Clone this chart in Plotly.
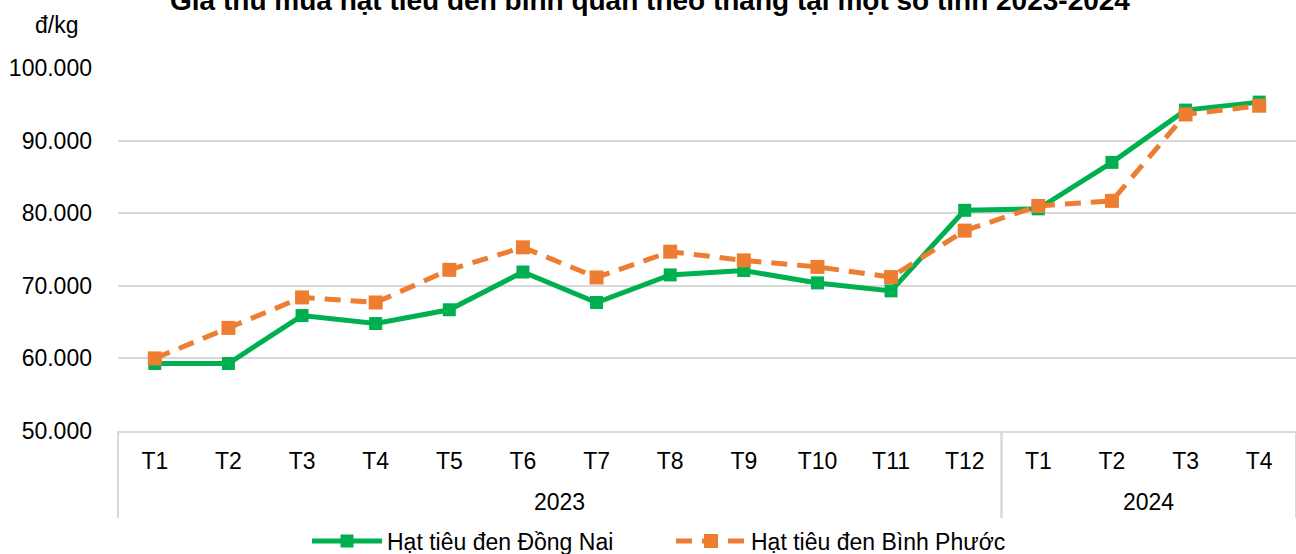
import plotly.graph_objects as go

years = ["2023"] * 12 + ["2024"] * 4
months = ["T1", "T2", "T3", "T4", "T5", "T6", "T7", "T8", "T9", "T10", "T11", "T12",
          "T1", "T2", "T3", "T4"]
dong_nai = [59300, 59300, 65900, 64800, 66700, 71900, 67700, 71500, 72100, 70400, 69300,
            80400, 80600, 87000, 94200, 95300]
binh_phuoc = [60000, 64200, 68400, 67700, 72200, 75300, 71150, 74700, 73500, 72600, 71200,
              77600, 81000, 81700, 93600, 94800]
y_ticks = [50000, 60000, 70000, 80000, 90000, 100000]

FONT = "Liberation Sans, Arial, sans-serif"
GRID = "#d9d9d9"
W, H = 1296, 554
ML, MR, MT, MB = 118, 0, 68, 123
plot_h = H - MT - MB

idx = list(range(len(months)))
n = len(months)

fig = go.Figure()
fig.add_trace(go.Scatter(
    x=idx, y=dong_nai, name="Hạt tiêu đen Đồng Nai",
    mode="lines+markers",
    line=dict(color="#00B050", width=5),
    marker=dict(symbol="square", size=13, color="#00B050"),
))
fig.add_trace(go.Scatter(
    x=idx, y=binh_phuoc, name="Hạt tiêu đen Bình Phước",
    mode="lines+markers",
    line=dict(color="#ED7D31", width=5, dash="16px,10px"),
    marker=dict(symbol="square", size=14, color="#ED7D31"),
))

# group (year) labels and dividers of the two-level category axis
groups = []
for i, yv in enumerate(years):
    if not groups or groups[-1][0] != yv:
        groups.append([yv, i, i])
    else:
        groups[-1][2] = i

annotations = [dict(
    text="đ/kg", xref="paper", yref="paper",
    x=-(ML - 33) / (W - ML - MR), y=1 + (MT - 25) / plot_h,
    xanchor="left", yanchor="middle",
    showarrow=False, font=dict(size=23, family=FONT, color="#000000"),
)]
shapes = []
div_bottom = -(518 - (H - MB)) / plot_h
for yv, a, b in groups:
    annotations.append(dict(
        text=yv, x=(a + b) / 2, xref="x", y=-(502 - (H - MB)) / plot_h, yref="paper",
        xanchor="center", yanchor="middle", showarrow=False,
        font=dict(size=23, family=FONT, color="#000000"),
    ))
    for edge in (a - 0.5, b + 0.5):
        shapes.append(dict(
            type="line", xref="paper", yref="paper",
            x0=(edge + 0.5) / n, x1=(edge + 0.5) / n, y0=0, y1=div_bottom,
            line=dict(color=GRID, width=2),
        ))

fig.update_layout(
    width=W, height=H,
    margin=dict(l=ML, r=MR, t=MT, b=MB),
    paper_bgcolor="white", plot_bgcolor="white",
    separators=",.",
    font=dict(family=FONT, size=23, color="#000000"),
    title=dict(
        text="<b>Giá thu mua hạt tiêu đen bình quân theo tháng tại một số tỉnh 2023-2024</b>",
        x=650 / W, xanchor="center", xref="container",
        y=1.0, yanchor="middle", yref="container",
        font=dict(size=28, family=FONT, color="#000000"),
    ),
    showlegend=True,
    legend=dict(
        orientation="h", xref="container", yref="container",
        x=307 / W, xanchor="left", y=1 - 541 / H, yanchor="middle",
        font=dict(size=23, family=FONT), itemwidth=70,
        entrywidth=279, entrywidthmode="pixels",
        bgcolor="rgba(0,0,0,0)",
    ),
    annotations=annotations,
    shapes=shapes,
)

fig.update_xaxes(
    range=[-0.5, n - 0.5], tickvals=idx, ticktext=months,
    showline=True, linecolor=GRID, linewidth=2,
    showgrid=False, ticks="", zeroline=False, automargin=False,
    ticklabelstandoff=8,
    tickfont=dict(size=23, family=FONT, color="#000000"),
)
fig.update_yaxes(
    range=[50000, 100000], tickvals=y_ticks, tickformat=",.0f",
    showgrid=True, gridcolor=GRID, gridwidth=2,
    zeroline=False, showline=False, ticks="", automargin=False,
    ticklabelstandoff=25,
    tickfont=dict(size=23, family=FONT, color="#000000"),
)

fig.write_html("out.html", config={"displayModeBar": False},
               post_script="document.body.style.margin='0';")
